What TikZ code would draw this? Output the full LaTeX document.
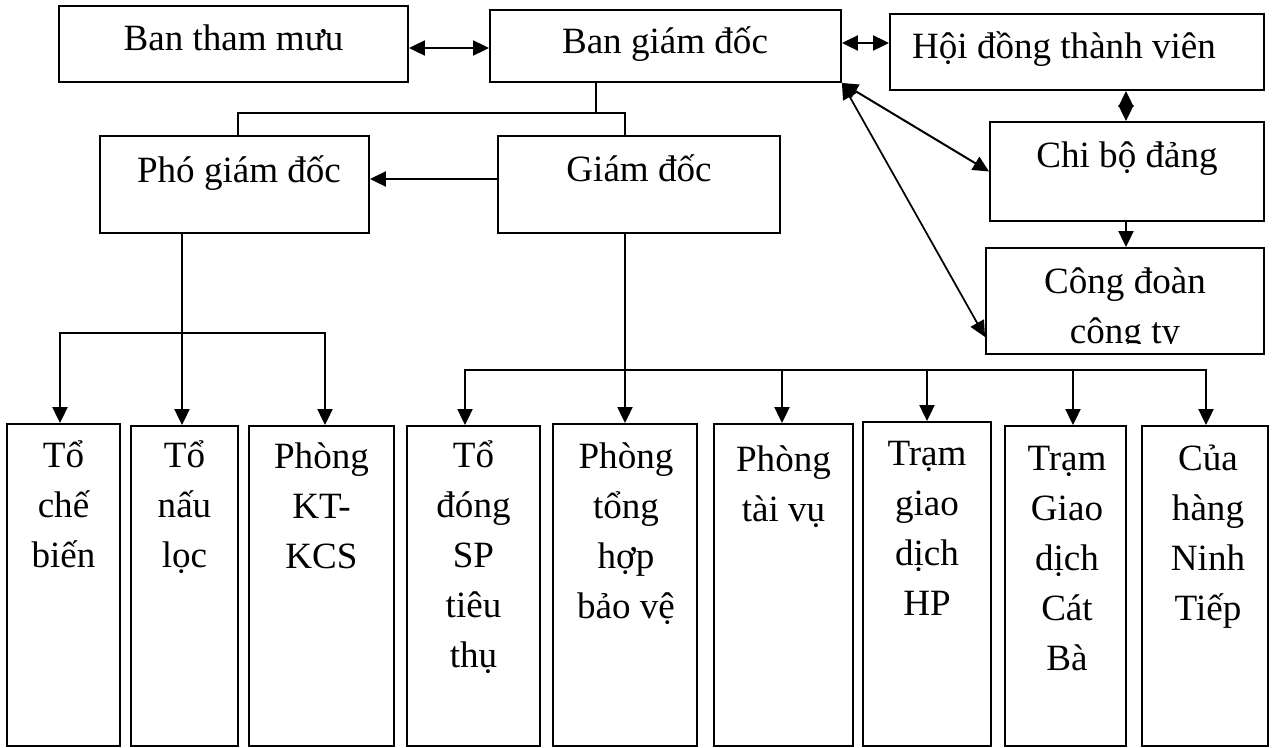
\documentclass[tikz,border=0pt]{standalone}
\usepackage{fontspec}
\setmainfont{Liberation Serif}
\usetikzlibrary{arrows.meta,fit}
\tikzset{
  box/.style={draw, line width=1.4pt, inner sep=0pt},
  lbl/.style={inner sep=0pt, font=\fontsize{27.8pt}{37.5pt}\selectfont},
  conn/.style={line width=1.5pt},
  tip/.tip={Triangle[length=12pt,width=11.25pt]},
  arr/.style={conn, -tip},
  darr/.style={conn, tip-tip},
}
\newcommand\ml[1]{\begin{tabular}[t]{@{}c@{}}#1\end{tabular}}
\begin{document}
\begin{tikzpicture}[x=0.75pt,y=-0.75pt]
\path[use as bounding box] (0,0) rectangle (1272,747);
% top boxes
\node[box, fit={(59,6) (408,82)}] (btm) {};
\node[box, fit={(490,10) (841,82)}] (bgd) {};
\node[box, fit={(890,14) (1264,90)}] (hd) {};
\node[box, fit={(100,136) (369,233)}] (pgd) {};
\node[box, fit={(498,136) (780,233)}] (gd) {};
\node[box, fit={(990,122) (1264,221)}] (chi) {};
\node[box, fit={(986,248) (1264,354)}] (cd) {};
% bottom boxes
\node[box, fit={(7,424) (120,746)}] (tcb) {};
\node[box, fit={(131,426) (238,746)}] (tnl) {};
\node[box, fit={(249,426) (394,746)}] (kt) {};
\node[box, fit={(407,426) (540,746)}] (tdsp) {};
\node[box, fit={(553,424) (697,746)}] (pth) {};
\node[box, fit={(714,424) (853,746)}] (tv) {};
\node[box, fit={(863,422) (991,746)}] (hp) {};
\node[box, fit={(1005,426) (1126,746)}] (cb) {};
\node[box, fit={(1142,426) (1268,746)}] (cua) {};
% labels
\node[lbl, anchor=base] (btm-t) at (233.5,50) {Ban tham mưu};
\node[lbl, anchor=base] (bgd-t) at (665,53) {Ban giám đốc};
\node[lbl, anchor=base] (hd-t) at (1064,58) {Hội đồng thành viên};
\node[lbl, anchor=base] (pgd-t) at (239,182) {Phó giám đốc};
\node[lbl, anchor=base] (gd-t) at (639,181) {Giám đốc};
\node[lbl, anchor=base] (chi-t) at (1127,167) {Chi bộ đảng};
\begin{scope}
\clip (986,248) rectangle (1264,343);
\node[lbl, anchor=base] (cd-t) at (1125,293) {\ml{Công đoàn\\công ty}};
\end{scope}
\node[lbl, anchor=base] (tcb-t) at (63.5,467) {\ml{Tổ\\chế\\biến}};
\node[lbl, anchor=base] (tnl-t) at (184.5,467) {\ml{Tổ\\nấu\\lọc}};
\node[lbl, anchor=base] (kt-t) at (321.5,468) {\ml{Phòng\\KT-\\KCS}};
\node[lbl, anchor=base] (tdsp-t) at (473.5,467) {\ml{Tổ\\đóng\\SP\\tiêu\\thụ}};
\node[lbl, anchor=base] (pth-t) at (626,468) {\ml{Phòng\\tổng\\hợp\\bảo vệ}};
\node[lbl, anchor=base] (tv-t) at (783.5,471) {\ml{Phòng\\tài vụ}};
\node[lbl, anchor=base] (hp-t) at (927,465) {\ml{Trạm\\giao\\dịch\\HP}};
\node[lbl, anchor=base] (cb-t) at (1067,470) {\ml{Trạm\\Giao\\dịch\\Cát\\Bà}};
\node[lbl, anchor=base] (cua-t) at (1208,470) {\ml{Của\\hàng\\Ninh\\Tiếp}};
% connectors top
\coordinate (yA) at (0,48);
\draw[darr] (btm.east |- yA) -- (bgd.west |- yA);
\coordinate (yB) at (0,43);
\draw[darr] (bgd.east |- yB) -- (hd.west |- yB);
\draw[darr] (bgd.south east) -- (chi.west);
\coordinate (yC) at (0,337);
\draw[darr, line width=1.3pt] (bgd.south east) -- (cd.west |- yC);
\coordinate (xD) at (1126,0);
\draw[darr] (xD |- hd.south) -- (xD |- chi.north);
\draw[arr] (xD |- chi.south) -- (xD |- cd.north);
% tree from Ban giam doc
\coordinate (t0) at (596,113);
\coordinate (tL) at (238,113);
\coordinate (tR) at (625,113);
\draw[conn] (t0 |- bgd.south) -- (t0);
\draw[conn] (tL |- pgd.north) -- (tL) -- (tR) -- (tR |- gd.north);
\coordinate (yE) at (0,179);
\draw[arr] (gd.west |- yE) -- (pgd.east |- yE);
% Pho giam doc tree
\coordinate (p0) at (182,333);
\coordinate (pL) at (60,333);
\coordinate (pR) at (325,333);
\draw[arr] (p0 |- pgd.south) -- (p0 |- tnl.north);
\draw[darr] (pL |- tcb.north) -- (pL) -- (pR) -- (pR |- kt.north);
% Giam doc tree
\coordinate (g0) at (625,370);
\coordinate (gL) at (465,370);
\coordinate (gR) at (1206,370);
\coordinate (g1) at (782,370);
\coordinate (g2) at (927,370);
\coordinate (g3) at (1073,370);
\draw[arr] (g0 |- gd.south) -- (g0 |- pth.north);
\draw[darr] (gL |- tdsp.north) -- (gL) -- (gR) -- (gR |- cua.north);
\draw[arr] (g1) -- (g1 |- tv.north);
\draw[arr] (g2) -- (g2 |- hp.north);
\draw[arr] (g3) -- (g3 |- cb.north);
\end{tikzpicture}
\end{document}
